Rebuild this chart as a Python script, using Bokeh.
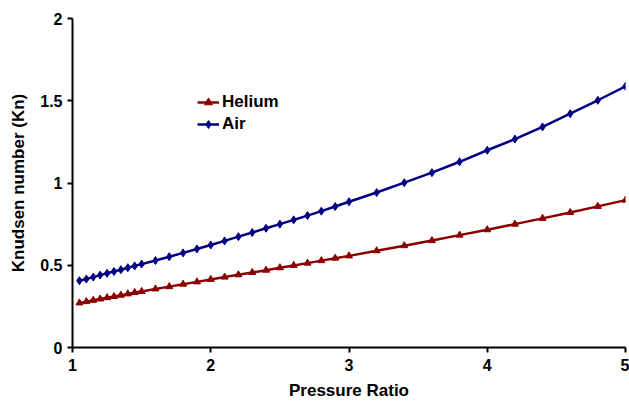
from bokeh.plotting import figure
from bokeh.models import Range1d, FixedTicker, Legend, LegendItem
from bokeh.embed import file_html
from bokeh.resources import INLINE

pressure_ratio = [1.05, 1.10, 1.15, 1.20, 1.25, 1.30, 1.35, 1.40, 1.45, 1.50,
                  1.6, 1.7, 1.8, 1.9, 2.0, 2.1, 2.2, 2.3, 2.4, 2.5, 2.6, 2.7, 2.8, 2.9, 3.0,
                  3.2, 3.4, 3.6, 3.8, 4.0, 4.2, 4.4, 4.6, 4.8, 5.0]
air_kn = [0.406, 0.416, 0.428, 0.440, 0.451, 0.462, 0.473, 0.485, 0.496, 0.507,
          0.529, 0.552, 0.575, 0.599, 0.623, 0.648, 0.674, 0.699, 0.725, 0.750,
          0.776, 0.802, 0.829, 0.857, 0.886,
          0.942, 1.002, 1.063, 1.129, 1.199, 1.267, 1.341, 1.421, 1.503, 1.588]
helium_kn = [0.271, 0.279, 0.287, 0.295, 0.303, 0.310, 0.318, 0.326, 0.334, 0.341,
             0.356, 0.370, 0.385, 0.399, 0.414, 0.428, 0.442, 0.456, 0.470, 0.485,
             0.499, 0.513, 0.528, 0.543, 0.557,
             0.588, 0.619, 0.650, 0.683, 0.716, 0.750, 0.785, 0.821, 0.858, 0.896]
x_ticks = [1, 2, 3, 4, 5]
y_ticks = [0, 0.5, 1, 1.5, 2]

FONT = "Liberation Sans"
RED = "#8B0000"
BLUE = "#000080"

p = figure(width=629, height=402, output_backend="svg", toolbar_location=None,
           x_range=Range1d(1, 5), y_range=Range1d(0, 2),
           min_border_left=72, min_border_right=4, min_border_top=18, min_border_bottom=54)
p.outline_line_color = None
p.xgrid.visible = False
p.ygrid.visible = False

for ax in (p.xaxis[0], p.yaxis[0]):
    ax.axis_line_width = 2
    ax.axis_line_color = "black"
    ax.major_tick_line_width = 2
    ax.major_tick_line_color = "black"
    ax.major_tick_in = 0
    ax.major_tick_out = 5
    ax.minor_tick_line_color = None
    ax.major_label_text_font = FONT
    ax.major_label_text_font_style = "bold"
    ax.major_label_text_font_size = "16px"
    ax.major_label_text_color = "#000000"
    ax.axis_label_text_font = FONT
    ax.axis_label_text_font_style = "bold"
    ax.axis_label_text_font_size = "17px"
    ax.axis_label_text_color = "#000000"

p.xaxis.ticker = FixedTicker(ticks=x_ticks)
p.yaxis.ticker = FixedTicker(ticks=y_ticks)
p.yaxis.major_label_overrides = {0: "0", 0.5: "0.5", 1: "1", 1.5: "1.5", 2: "2"}
p.xaxis.axis_label = "Pressure Ratio"
p.yaxis.axis_label = "Knudsen number (Kn)"
p.xaxis.major_label_standoff = 6
p.xaxis.axis_label_standoff = 7
p.yaxis.major_label_standoff = 5
p.yaxis.axis_label_standoff = 9

he_line = p.line(pressure_ratio, helium_kn, line_color=RED, line_width=2.5)
he_pts = p.scatter(pressure_ratio, helium_kn, marker="triangle", size=7,
                   fill_color=RED, line_color=RED)
air_line = p.line(pressure_ratio, air_kn, line_color=BLUE, line_width=2.5)
air_pts = p.scatter(pressure_ratio, air_kn, marker="diamond", size=8,
                    fill_color=BLUE, line_color=BLUE)

legend = Legend(items=[LegendItem(label="Helium", renderers=[he_line, he_pts]),
                       LegendItem(label="Air", renderers=[air_line, air_pts])],
                location=(125, 213), padding=0, margin=0, spacing=2,
                glyph_width=22, glyph_height=20, label_standoff=3,
                label_text_font=FONT, label_text_font_style="bold",
                label_text_font_size="17px", label_height=20,
                label_text_color="#000000",
                border_line_color=None, background_fill_alpha=0)
p.add_layout(legend)

open("out.html", "w").write(file_html(p, INLINE))
